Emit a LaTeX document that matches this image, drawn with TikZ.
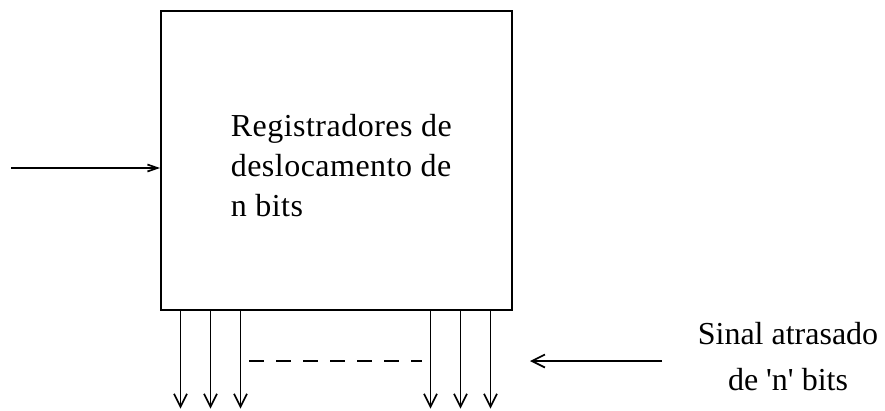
\documentclass[tikz,border=0pt]{standalone}
\usepackage{fontspec}
\setmainfont{Liberation Serif}
\usetikzlibrary{arrows.meta,calc}
\begin{document}
\begin{tikzpicture}[x=1pt,y=-1pt,line width=1.7pt,
  tip/.style={-{Straight Barb[length=13pt,width=13pt]}},
  intip/.style={-{Straight Barb[length=10pt,width=7pt]}},
  lbl/.style={font=\fontsize{32}{40}\selectfont,inner sep=0pt}]
\useasboundingbox[fill=white] (0,0) rectangle (885,410);
\node[draw,minimum width=351pt,minimum height=299pt,inner sep=0pt,anchor=north west] (reg) at (160,10) {};
\node[lbl,align=left,anchor=north west,font={\fontsize{32}{40}\selectfont\addfontfeature{LetterSpace=1.5}}] (regtxt) at (230,113) {Registradores de\\deslocamento de\\n bits};
\coordinate (in) at (11,168);
\draw[intip] (in) -- (in -| reg.west);
% outputs
\foreach \k/\dx in {o1/20.5,o2/50.5,o3/80.5,o4/270.5,o5/300.5,o6/330.5}{
  \coordinate (\k a) at ($(reg.south west)+(\dx,0)$);
  \coordinate (\k b) at ($(reg.south west)+(\dx,98)$);
  \draw[tip] (\k a) -- (\k b);
}
\coordinate (d1) at (249,361);
\coordinate (d2) at (422,361);
\draw[dash pattern=on 15pt off 12pt] (d1) -- (d2);
\node[lbl,align=center,font=\fontsize{32}{46}\selectfont] (sig) at (788,357) {Sinal atrasado\\de \textquotesingle n\textquotesingle{} bits};
\coordinate (s1) at (662,361);
\coordinate (s2) at (530,361);
\draw[tip] (s1) -- (s2);
\end{tikzpicture}
\end{document}
